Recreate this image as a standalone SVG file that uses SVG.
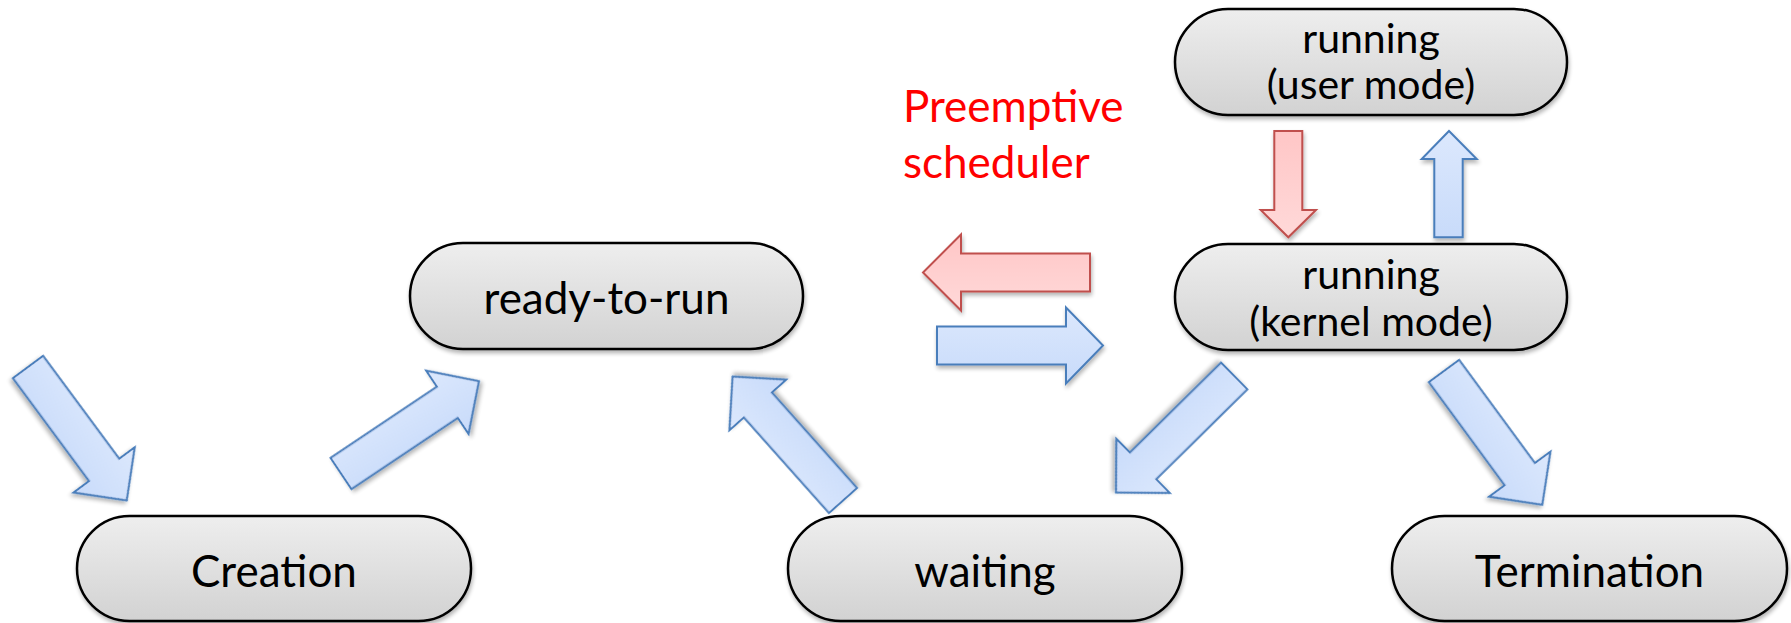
<svg xmlns="http://www.w3.org/2000/svg" xmlns:xlink="http://www.w3.org/1999/xlink" width="1791" height="623" viewBox="0 0 1791 623">
  <defs>
    <linearGradient id="pillFill" x1="0" y1="0" x2="0" y2="1">
      <stop offset="0" stop-color="#eeeeee"/>
      <stop offset="1" stop-color="#d2d2d2"/>
    </linearGradient>
    <linearGradient id="blueFill" x1="0" y1="0" x2="0" y2="1">
      <stop offset="0" stop-color="#dce8fd"/>
      <stop offset="1" stop-color="#c8dbfa"/>
    </linearGradient>
    <linearGradient id="redFill" x1="0" y1="0" x2="0" y2="1">
      <stop offset="0" stop-color="#ffc6c6"/>
      <stop offset="1" stop-color="#ffd9d9"/>
    </linearGradient>
    <filter id="shadow" x="-10%" y="-10%" width="120%" height="130%">
      <feGaussianBlur in="SourceAlpha" stdDeviation="2"/>
      <feOffset dx="1" dy="3" result="off"/>
      <feComponentTransfer><feFuncA type="linear" slope="0.3"/></feComponentTransfer>
      <feMerge><feMergeNode/><feMergeNode in="SourceGraphic"/></feMerge>
    </filter>
    <!-- block arrow pointing along +x, tail at origin -->
    <path id="diagArrow" d="M0,-18.75 L128,-18.75 L128,-38 L166,0 L128,38 L128,18.75 L0,18.75 Z"/>
  </defs>
  <style>
    .pill { fill: url(#pillFill); stroke: #000; stroke-width: 2.5; filter: url(#shadow); }
    .label { font-family: Lato, "Open Sans", "Liberation Sans", sans-serif; font-size: 44px; fill: #000; text-anchor: middle; }
    .label.two { font-size: 41px; }
    .blue { fill: url(#blueFill); stroke: #4a7ebb; stroke-width: 2; stroke-linejoin: miter; filter: url(#shadow); }
    .red { fill: url(#redFill); stroke: #c0504d; stroke-width: 2; stroke-linejoin: miter; filter: url(#shadow); }
    .note { font-family: Lato, "Open Sans", "Liberation Sans", sans-serif; font-size: 44px; fill: #ff0000; }
  </style>

  <rect width="1791" height="623" fill="#ffffff"/>

  <!-- transitions -->
  <g id="connectors">
    <use href="#diagArrow" class="blue" transform="translate(28,367) rotate(53.5)"/>
    <use href="#diagArrow" class="blue" transform="translate(341,473.5) rotate(-33.8)"/>
    <use href="#diagArrow" class="blue" transform="translate(843,500.5) rotate(-131.7)"/>
    <use href="#diagArrow" class="blue" transform="translate(1234.2,376) rotate(135.4)"/>
    <use href="#diagArrow" class="blue" transform="translate(1444,371) rotate(53.7)"/>
    <path class="red" d="M1090,253.5 L961,253.5 L961,234.5 L923,272.5 L961,310.5 L961,291.5 L1090,291.5 Z"/>
    <path class="blue" d="M937,326.5 L1066,326.5 L1066,307.5 L1103,345.5 L1066,383.5 L1066,364.5 L937,364.5 Z"/>
    <path class="red" d="M1274.3,131 L1302.3,131 L1302.3,210 L1316,210 L1288.3,237.3 L1260.7,210 L1274.3,210 Z"/>
    <path class="blue" d="M1434.3,237.3 L1434.3,159 L1421.7,159 L1449,131 L1476.7,159 L1462.7,159 L1462.7,237.3 Z"/>
  </g>

  <g id="creation">
    <rect class="pill" x="77" y="516" width="394" height="105" rx="52.5"/>
    <text class="label" x="274" y="587">Creation</text>
  </g>

  <g id="ready-to-run">
    <rect class="pill" x="410" y="243" width="393" height="106" rx="53"/>
    <text class="label" x="606.5" y="314">ready-to-run</text>
  </g>

  <g id="waiting">
    <rect class="pill" x="788" y="516" width="394" height="105" rx="52.5"/>
    <text class="label" x="985" y="587">waiting</text>
  </g>

  <g id="termination">
    <rect class="pill" x="1392" y="516" width="395" height="105" rx="52.5"/>
    <text class="label" x="1589.5" y="587">Termination</text>
  </g>

  <g id="running-user">
    <rect class="pill" x="1175" y="9" width="392" height="106" rx="53"/>
    <text class="label two" x="1371" y="53">running</text>
    <text class="label two" x="1371" y="99">(user mode)</text>
  </g>

  <g id="running-kernel">
    <rect class="pill" x="1175" y="244" width="392" height="106" rx="53"/>
    <text class="label two" x="1371" y="289">running</text>
    <text class="label two" x="1371" y="336">(kernel mode)</text>
  </g>

  <g id="preemptive-note">
    <text class="note" x="903" y="122">Preemptive</text>
    <text class="note" x="903" y="178">scheduler</text>
  </g>
</svg>
